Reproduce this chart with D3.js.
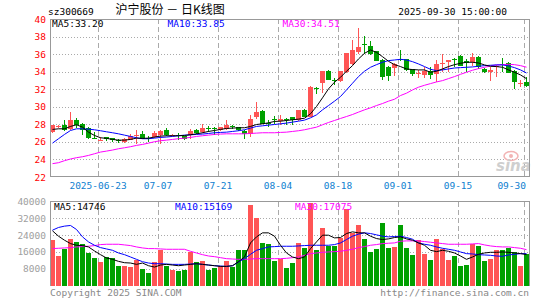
<!DOCTYPE html>
<html><head><meta charset="utf-8">
<script src="https://cdn.jsdelivr.net/npm/d3@7"></script>
<style>body{margin:0;background:#fff}svg{display:block}text{font-family:"DejaVu Sans Mono",monospace;font-size:9.5px}</style>
</head><body><svg id="c" width="545" height="300"></svg>
<script>
const dates = [
"2025-06-11","2025-06-12","2025-06-13","2025-06-16","2025-06-17","2025-06-18","2025-06-19","2025-06-20","2025-06-23","2025-06-24",
"2025-06-25","2025-06-26","2025-06-27","2025-06-30","2025-07-01","2025-07-02","2025-07-03","2025-07-04","2025-07-07","2025-07-08",
"2025-07-09","2025-07-10","2025-07-11","2025-07-14","2025-07-15","2025-07-16","2025-07-17","2025-07-18","2025-07-21","2025-07-22",
"2025-07-23","2025-07-24","2025-07-25","2025-07-28","2025-07-29","2025-07-30","2025-07-31","2025-08-01","2025-08-04","2025-08-05",
"2025-08-06","2025-08-07","2025-08-08","2025-08-11","2025-08-12","2025-08-13","2025-08-14","2025-08-15","2025-08-18","2025-08-19",
"2025-08-20","2025-08-21","2025-08-22","2025-08-25","2025-08-26","2025-08-27","2025-08-28","2025-08-29","2025-09-01","2025-09-02",
"2025-09-03","2025-09-04","2025-09-05","2025-09-08","2025-09-09","2025-09-10","2025-09-11","2025-09-12","2025-09-15","2025-09-16",
"2025-09-17","2025-09-18","2025-09-19","2025-09-22","2025-09-23","2025-09-24","2025-09-25","2025-09-26","2025-09-29","2025-09-30"];
const open = [
27.11,27.72,27.95,27.49,28.52,28.06,27.61,26.50,26.20,26.55,
26.47,26.20,25.95,26.24,26.70,26.92,26.40,26.55,26.73,27.30,
26.73,26.81,26.62,26.73,27.38,27.11,27.60,27.60,27.30,27.49,
27.85,27.68,27.23,26.92,28.89,29.50,28.10,28.63,28.33,28.60,
28.82,28.44,29.65,28.89,32.10,32.68,34.05,33.00,32.91,33.93,
34.88,36.28,37.10,36.97,36.32,35.33,34.50,34.39,35.50,35.45,
34.31,33.80,33.67,34.12,33.74,34.90,35.07,35.50,35.83,35.18,
35.07,35.71,34.31,33.93,34.65,34.90,34.95,34.12,32.70,32.80];
const high = [
27.95,27.95,28.44,29.35,28.70,28.10,27.65,27.10,26.55,26.60,
26.50,26.36,26.40,26.90,27.30,27.19,26.62,27.19,27.30,27.57,
26.90,27.00,26.66,27.42,27.42,28.02,27.76,27.65,27.75,28.44,
27.98,27.72,27.30,29.01,30.52,29.60,28.45,28.90,29.01,28.70,
28.85,29.65,29.70,32.35,32.30,34.12,34.15,33.29,34.10,36.10,
37.61,38.97,38.10,37.45,36.40,35.40,34.60,34.95,36.47,35.50,
34.35,34.20,34.50,34.58,35.33,36.02,35.33,35.56,35.85,35.45,
36.09,35.83,34.40,34.58,34.75,35.56,35.07,34.15,33.00,33.40];
const low = [
27.00,27.60,27.19,27.40,27.60,26.75,26.32,26.35,26.10,26.10,
25.95,25.90,25.90,26.20,25.80,26.30,25.98,26.50,25.79,26.70,
26.70,26.17,26.17,26.28,26.95,27.05,27.11,26.73,27.20,27.40,
27.49,27.25,26.36,26.55,28.60,28.00,27.70,28.06,27.95,27.98,
27.98,28.40,28.80,28.80,31.47,31.55,33.00,32.53,32.85,33.90,
34.80,36.02,36.00,35.86,35.20,33.06,32.91,33.55,35.20,34.10,
33.55,33.29,33.29,33.17,32.80,33.93,33.93,34.58,34.60,33.93,
34.69,34.31,33.90,32.91,33.44,33.93,33.80,32.04,32.23,32.23];
const close = [
27.87,27.80,27.30,28.44,27.98,27.30,26.47,26.45,26.25,26.28,
26.24,26.15,26.36,26.66,26.75,26.36,26.36,27.00,27.19,26.73,
26.81,26.75,26.36,27.19,27.00,27.57,27.57,27.55,27.68,27.95,
27.83,27.30,26.92,28.63,29.39,28.06,28.06,28.52,28.59,28.55,
28.44,29.58,28.82,32.30,32.04,34.05,33.06,32.98,34.05,36.09,
36.47,36.77,37.04,36.02,35.26,33.44,33.55,34.88,35.45,34.20,
33.74,33.85,34.12,33.67,34.88,34.95,35.33,35.45,34.69,34.95,
35.71,34.58,33.93,34.20,34.69,34.85,33.82,32.80,32.75,32.42];
const volume = [
21560,13894,17248,22039,20601,19643,15331,12936,11019,13415,
12936,9103,9103,8624,11978,7666,5909,11179,17088,9103,
7506,6867,7187,15970,11179,11658,7187,8464,9103,11658,
8784,16769,17088,38328,31940,20442,19643,11498,12776,8145,
10540,20442,17727,39127,16769,27309,18685,18685,22677,36412,
24913,28906,22039,15970,17567,29704,17727,18366,28906,17886,
14373,21560,14852,11978,22039,17567,11978,13894,9103,9582,
19963,18685,11498,12457,16769,16769,17886,15970,9103,15172];
const ma5 = [
27.42,27.49,27.49,27.76,27.95,27.68,27.11,26.73,26.47,26.40,
26.28,26.20,26.20,26.28,26.43,26.40,26.43,26.55,26.66,26.70,
26.70,26.70,26.73,26.81,26.92,27.04,27.19,27.30,27.42,27.53,
27.57,27.61,27.61,27.76,27.98,28.06,28.17,28.33,28.36,28.44,
28.52,28.59,28.70,29.20,30.03,31.02,32.04,32.80,33.36,34.05,
34.69,35.45,36.09,36.47,36.20,35.71,35.18,34.80,34.58,34.31,
34.24,34.20,34.20,33.93,34.05,34.31,34.58,34.80,34.95,35.07,
35.07,34.99,34.77,34.61,34.58,34.50,34.20,33.93,33.63,33.20];
const ma10 = [
25.86,26.36,26.85,27.30,27.49,27.49,27.45,27.38,27.27,27.15,
27.04,26.92,26.77,26.62,26.47,26.36,26.36,26.43,26.51,26.55,
26.62,26.70,26.77,26.81,26.85,26.89,26.96,27.04,27.08,27.11,
27.19,27.27,27.38,27.57,27.76,27.83,27.91,27.98,28.06,28.14,
28.25,28.36,28.48,28.74,29.08,29.65,30.14,30.64,31.17,31.92,
32.68,33.44,34.05,34.50,34.80,35.07,35.26,35.33,35.41,35.33,
35.14,34.88,34.58,34.27,34.12,34.20,34.31,34.42,34.46,34.50,
34.54,34.61,34.69,34.73,34.77,34.77,34.65,34.46,34.20,33.85];
const ma30 = [
23.52,23.63,23.86,24.05,24.20,24.31,24.46,24.65,24.84,24.95,
25.07,25.22,25.33,25.45,25.60,25.71,25.86,26.02,26.13,26.20,
26.28,26.36,26.43,26.51,26.62,26.70,26.77,26.85,26.89,26.92,
26.92,26.92,26.92,26.96,27.00,27.04,27.04,27.04,27.08,27.11,
27.19,27.27,27.38,27.53,27.68,27.95,28.21,28.44,28.67,28.89,
29.12,29.39,29.65,29.88,30.14,30.37,30.64,30.86,31.28,31.55,
31.92,32.23,32.45,32.64,32.83,32.98,33.21,33.44,33.70,33.93,
34.16,34.35,34.50,34.65,34.77,34.80,34.84,34.80,34.69,34.51];
const vma5 = [
26031,23476,21560,19963,19164,19004,18366,16449,14692,13095,
12457,11498,10860,10700,10061,10700,9422,8784,9742,10061,
9742,9422,9742,10061,10381,10061,9742,9422,9103,9103,
9422,11339,13575,20282,23157,25073,25073,23476,19164,15491,
13575,12776,13575,17567,20761,23955,23955,22677,22837,24754,
25552,25073,25073,23476,22358,21879,22198,22837,23157,22198,
21560,20282,19164,16769,16130,16769,16289,15491,14054,12457,
13575,14852,15491,15810,15810,15970,15810,15491,15172,14746];
const vma10 = [
26351,27628,28267,28586,26670,23157,20761,19164,18046,17407,
16769,15491,14692,13575,12457,11339,10700,10381,10381,10221,
10061,10061,10061,10221,10381,10061,9742,9422,9263,9103,
9422,11179,12776,14852,16769,17567,18366,18525,18685,18685,
18685,18845,19004,19164,19164,19164,19164,19483,20282,21879,
23476,24434,25073,24754,24115,23476,23157,23316,23476,22837,
22039,20282,19643,19164,18366,17727,17248,16769,15970,15172,
15012,14692,14533,14373,14054,13894,14533,14852,15172,15169];
const vma30 = [
17567,17727,17886,18046,18366,18525,18685,19004,19483,19643,
19643,19643,19324,19004,18366,17886,17567,17567,17407,17248,
17248,17248,17248,16289,15491,14692,14054,13734,13255,12776,
12616,12457,12457,12616,12776,12776,12776,12776,12776,12936,
13255,13575,14373,15172,15491,15810,15970,16130,16289,16769,
17248,18046,18525,19164,19483,19963,20122,20282,21080,21240,
21240,21240,20921,20601,20282,19963,19643,19643,19643,19643,
19803,19963,19324,18845,18525,18366,18366,18046,17727,17075];
const priceTicks = [22,24,26,28,30,32,34,36,38,40];
const volTicks = [8000,16000,24000,32000,40000];
const tickDates = ["2025-06-23","2025-07-07","2025-07-21","2025-08-04","2025-08-18","2025-09-01","2025-09-15","2025-09-30"];
const tickLabels = ["2025-06-23","07-07","07-21","08-04","08-18","09-01","09-15","09-30"];
const code = "sz300669";
const title = "沪宁股份 － 日K线图";
const stamp = "2025-09-30 15:00:00";
const priceLegend = ["MA5:33.20","MA10:33.85","MA30:34.51"];
const volLegend = ["MA5:14746","MA10:15169","MA30:17075"];

const RED="#ff5555", GREEN="#00a000", GRID="#aaaaaa", FRAME="#999999";
const svg = d3.select("#c");
svg.append("rect").attr("width",545).attr("height",300).attr("fill","#fff");

const L=50, R=529;
const x = d3.scaleBand().domain(dates).range([L, L+6*dates.length-1]).paddingInner(1/6).paddingOuter(0);
const y = d3.scaleLinear().domain([22,40]).range([177,19]);
const yv = d3.scaleLinear().domain([0,40000]).range([285.5,201.5]);
const cx = d => x(d)+2.5;

// grids price
const g = svg.append("g").attr("shape-rendering","crispEdges");
priceTicks.filter(v=>v>22&&v<40).forEach(v=>{
  g.append("line").attr("x1",L).attr("x2",R).attr("y1",Math.round(y(v))+0.5).attr("y2",Math.round(y(v))+0.5)
   .attr("stroke",GRID).attr("stroke-dasharray","1,2");
});
volTicks.filter(v=>v<40000).forEach(v=>{
  g.append("line").attr("x1",L).attr("x2",R).attr("y1",Math.round(yv(v))+0.5).attr("y2",Math.round(yv(v))+0.5)
   .attr("stroke",GRID).attr("stroke-dasharray","1,2");
});
tickDates.forEach(d=>{
  const xx = x(d)+0.5;
  g.append("line").attr("x1",xx).attr("x2",xx).attr("y1",19).attr("y2",177).attr("stroke",GRID).attr("stroke-dasharray","5,3");
  g.append("line").attr("x1",xx).attr("x2",xx).attr("y1",202).attr("y2",286).attr("stroke",GRID).attr("stroke-dasharray","5,3");
});

// watermark
const wm = svg.append("g");
wm.append("ellipse").attr("cx",511).attr("cy",156).attr("rx",7).attr("ry",4.5).attr("fill","none").attr("stroke","#f2b4b4").attr("stroke-width",1.5);
wm.append("circle").attr("cx",511).attr("cy",156).attr("r",2).attr("fill","#f2b4b4");
wm.append("text").attr("x",496).attr("y",171).text("sina")
  .style("font-family","DejaVu Sans").style("font-size","15px").style("font-style","italic").style("font-weight","bold").attr("fill","#cfcfcf");

// candles
const cg = svg.append("g").attr("shape-rendering","crispEdges");
dates.forEach((d,i)=>{
  const up = close[i]>=open[i];
  const col = up?RED:GREEN;
  cg.append("line").attr("x1",cx(d)).attr("x2",cx(d)).attr("y1",y(high[i])).attr("y2",y(low[i])).attr("stroke",col);
  const top = Math.min(y(open[i]),y(close[i])), bot = Math.max(y(open[i]),y(close[i]));
  cg.append("rect").attr("x",x(d)).attr("width",x.bandwidth()).attr("y",top).attr("height",Math.max(1,bot-top)).attr("fill",col);
  // volume
  cg.append("rect").attr("x",x(d)).attr("width",x.bandwidth()).attr("y",yv(volume[i])).attr("height",yv(0)-yv(volume[i])).attr("fill",col);
});

// MA lines
const lineP = d3.line().x((v,i)=>cx(dates[i])).y(v=>y(v));
const lineV = d3.line().x((v,i)=>cx(dates[i])).y(v=>yv(v));
[[ma30,"#ff00ff"],[ma10,"#0000ff"],[ma5,"#000000"]].forEach(([s,c])=>
  svg.append("path").attr("d",lineP(s)).attr("fill","none").attr("stroke",c).attr("stroke-width",1));
[[vma30,"#ff00ff"],[vma10,"#0000ff"],[vma5,"#000000"]].forEach(([s,c])=>
  svg.append("path").attr("d",lineV(s)).attr("fill","none").attr("stroke",c).attr("stroke-width",1));

// frames
const fr = svg.append("g").attr("shape-rendering","crispEdges").attr("fill","none").attr("stroke",FRAME);
fr.append("rect").attr("x",L+0.5).attr("y",19.5).attr("width",R-L).attr("height",157);
fr.append("path").attr("d",`M${L+0.5},286V201.5H${R+0.5}V286`);

// axes
const ay = svg.append("g").attr("transform",`translate(${L},0)`)
  .call(d3.axisLeft(y).tickValues(priceTicks).tickSize(0).tickPadding(4).tickFormat(d3.format("d")));
ay.select(".domain").remove();
ay.selectAll("text").attr("fill","#ff0000").style("font-family","DejaVu Sans Mono").style("font-size","9.5px");

const av = svg.append("g").attr("transform",`translate(${L},0)`)
  .call(d3.axisLeft(yv).tickValues(volTicks).tickSize(0).tickPadding(4).tickFormat(d3.format("d")));
av.select(".domain").remove();
av.selectAll("text").attr("fill","#a0a0a0").style("font-family","DejaVu Sans Mono").style("font-size","9.5px");

const ax = svg.append("g").attr("transform",`translate(-2.5,177)`)
  .call(d3.axisBottom(x).tickValues(tickDates).tickSize(0).tickPadding(5).tickFormat((d,i)=>tickLabels[i]));
ax.select(".domain").remove();
ax.selectAll("text").attr("fill","#0f7fd0").style("font-family","DejaVu Sans Mono").style("font-size","9.5px");
ax.selectAll(".tick").filter(d=>d===tickDates[tickDates.length-1]).select("text").attr("text-anchor","end").attr("dx","2");

// titles
svg.append("text").attr("x",48).attr("y",15).text(code).attr("fill","#000");
svg.append("text").attr("x",115.5).attr("y",14).text(title).attr("fill","#000")
  .style("font-family","'Noto Sans CJK SC'").style("font-size","12px");
svg.append("text").attr("x",507).attr("y",15).attr("text-anchor","end").text(stamp).attr("fill","#000");

// legends
const pl = [[52,"#000"],[167.5,"#0000ff"],[282.5,"#ff00ff"]];
priceLegend.forEach((t,i)=>svg.append("text").attr("x",pl[i][0]).attr("y",27).attr("fill",pl[i][1]).text(t));
const vl = [[54,"#000"],[175,"#0000ff"],[295,"#ff00ff"]];
volLegend.forEach((t,i)=>svg.append("text").attr("x",vl[i][0]).attr("y",209.5).attr("fill",vl[i][1]).text(t));

// footer
svg.append("text").attr("x",50).attr("y",295.5).attr("fill","#888").text("Copyright 2025 SINA.COM");
svg.append("text").attr("x",529).attr("y",295.5).attr("text-anchor","end").attr("fill","#888").text("http://finance.sina.com.cn");
</script></body></html>
